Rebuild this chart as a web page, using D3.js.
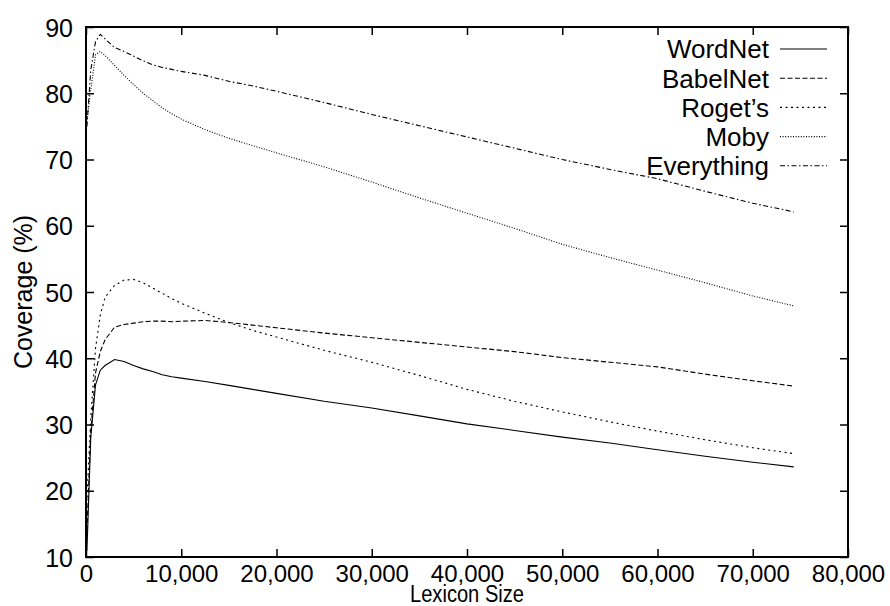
<!DOCTYPE html>
<html>
<head>
<meta charset="utf-8">
<script src="https://cdn.jsdelivr.net/npm/d3@7"></script>
<style>
  body { margin: 0; background: #fff; }
  text { font-family: "Liberation Sans", Arial, Helvetica, sans-serif; fill: #000; }
  .series { fill: none; stroke: #000; stroke-width: 1.1; }
</style>
</head>
<body>
<svg id="chart" width="890" height="606"></svg>
<script>
// lexicon sizes sampled along the x axis
const lexiconSizes = [100, 500, 1000, 1500, 2000, 3000, 4000, 5000, 6000, 7000, 8000, 9000, 10000,
  12500, 15000, 17500, 20000, 25000, 30000, 35000, 40000, 45000, 50000, 55000, 60000, 65000, 70000, 74300];

const wordnet = [11.0, 28.0, 36.0, 38.2, 38.9, 39.8, 39.5, 38.9, 38.4, 38.0, 37.5, 37.2, 37.0,
  36.5, 35.9, 35.3, 34.7, 33.5, 32.5, 31.3, 30.1, 29.1, 28.1, 27.2, 26.2, 25.2, 24.3, 23.6];
const babelnet = [14.0, 29.0, 37.8, 41.0, 42.8, 44.7, 45.1, 45.3, 45.5, 45.6, 45.6, 45.5, 45.6,
  45.7, 45.4, 45.0, 44.6, 43.8, 43.1, 42.4, 41.7, 41.0, 40.1, 39.4, 38.7, 37.6, 36.6, 35.8];
const rogets = [19.0, 31.0, 41.5, 46.5, 49.2, 51.0, 51.8, 51.9, 51.4, 50.6, 49.8, 49.0, 48.3,
  46.8, 45.4, 44.2, 43.2, 41.2, 39.4, 37.4, 35.3, 33.5, 31.9, 30.4, 29.0, 27.7, 26.5, 25.6];
const moby = [76.0, 80.5, 85.8, 86.3, 85.7, 84.2, 82.7, 81.3, 80.0, 78.9, 77.8, 76.9, 76.1,
  74.5, 73.2, 72.1, 71.0, 68.9, 66.6, 64.2, 61.9, 59.6, 57.2, 55.2, 53.3, 51.4, 49.4, 47.9];
const everything = [75.0, 83.5, 87.8, 88.9, 88.2, 86.9, 86.3, 85.6, 84.9, 84.3, 83.9, 83.6, 83.3,
  82.7, 81.8, 81.1, 80.3, 78.6, 76.8, 75.1, 73.4, 71.7, 70.0, 68.5, 67.1, 65.2, 63.4, 62.1];

const seriesNames = ['WordNet', 'BabelNet', "Roget\u2019s", 'Moby', 'Everything'];
const seriesValues = [wordnet, babelnet, rogets, moby, everything];
const dashes = ['none', '5,2.5', '2,3.5', '1,1.6', '5,2.5,1.5,2.5'];

const xTicks = [0, 10000, 20000, 30000, 40000, 50000, 60000, 70000, 80000];
const yTicks = [10, 20, 30, 40, 50, 60, 70, 80, 90];

const margin = { top: 27, right: 42, bottom: 49, left: 86 };
const width = 890, height = 606;

const svg = d3.select('#chart');

const xScale = d3.scaleLinear()
                 .domain([0, 80000])
                 .range([margin.left, width - margin.right]);
const yScale = d3.scaleLinear()
                 .domain([10, 90])
                 .range([height - margin.bottom, margin.top]);

const line = d3.line()
               .x(d => xScale(d.x))
               .y(d => yScale(d.y));

// series
seriesValues.forEach((vals, i) => {
  const data = lexiconSizes.map((x, j) => ({ x: x, y: vals[j] }));
  svg.append('path')
     .datum(data)
     .attr('class', 'series')
     .attr('stroke-dasharray', dashes[i])
     .attr('d', line);
});

// axes (ticks inside, mirrored)
const fmt = d3.format(',');
const tickLen = 8;

svg.append('g')
   .attr('transform', `translate(0,${yScale(10)})`)
   .call(d3.axisBottom(xScale).tickValues(xTicks).tickSizeInner(-tickLen).tickSizeOuter(0).tickFormat(fmt))
   .call(g => g.select('.domain').remove())
   .call(g => g.selectAll('line').attr('stroke', '#000').attr('stroke-width', 1.5))
   .call(g => g.selectAll('text').attr('y', 25).attr('dy', 0).attr('font-size', 24));

svg.append('g')
   .attr('transform', `translate(0,${yScale(90)})`)
   .call(d3.axisTop(xScale).tickValues(xTicks).tickSizeInner(-tickLen).tickSizeOuter(0).tickFormat(''))
   .call(g => g.select('.domain').remove())
   .call(g => g.selectAll('line').attr('stroke', '#000').attr('stroke-width', 1.5));

svg.append('g')
   .attr('transform', `translate(${xScale(0)},0)`)
   .call(d3.axisLeft(yScale).tickValues(yTicks).tickSizeInner(-tickLen).tickSizeOuter(0))
   .call(g => g.select('.domain').remove())
   .call(g => g.selectAll('line').attr('stroke', '#000').attr('stroke-width', 1.5))
   .call(g => g.selectAll('text').attr('x', -13).attr('dy', '0.36em').attr('font-size', 25));

svg.append('g')
   .attr('transform', `translate(${xScale(80000)},0)`)
   .call(d3.axisRight(yScale).tickValues(yTicks).tickSizeInner(-tickLen).tickSizeOuter(0).tickFormat(''))
   .call(g => g.select('.domain').remove())
   .call(g => g.selectAll('line').attr('stroke', '#000').attr('stroke-width', 1.5));

svg.selectAll('.tick text').attr('fill', '#000').attr('font-family', null);

// frame
svg.append('rect')
   .attr('x', xScale(0))
   .attr('y', yScale(90))
   .attr('width', xScale(80000) - xScale(0))
   .attr('height', yScale(10) - yScale(90))
   .attr('fill', 'none')
   .attr('stroke', '#000')
   .attr('stroke-width', 2);

// axis titles
svg.append('text')
   .attr('x', (xScale(0) + xScale(80000)) / 2)
   .attr('y', 602)
   .attr('text-anchor', 'middle')
   .attr('font-size', 23)
   .attr('textLength', 114)
   .attr('lengthAdjust', 'spacingAndGlyphs')
   .text('Lexicon Size');

svg.append('text')
   .attr('transform', `translate(32,${(yScale(10) + yScale(90)) / 2}) rotate(-90)`)
   .attr('text-anchor', 'middle')
   .attr('font-size', 25)
   .text('Coverage (%)');

// legend
const legend = svg.append('g').attr('class', 'legend');
seriesNames.forEach((name, i) => {
  const cy = 49 + i * 29.2;
  legend.append('text')
        .attr('x', 769)
        .attr('y', cy)
        .attr('dy', '0.36em')
        .attr('text-anchor', 'end')
        .attr('font-size', 26)
        .text(name);
  legend.append('line')
        .attr('x1', 780)
        .attr('x2', 827)
        .attr('y1', cy)
        .attr('y2', cy)
        .attr('stroke', '#000')
        .attr('stroke-width', 1.1)
        .attr('stroke-dasharray', dashes[i]);
});
</script>
</body>
</html>
